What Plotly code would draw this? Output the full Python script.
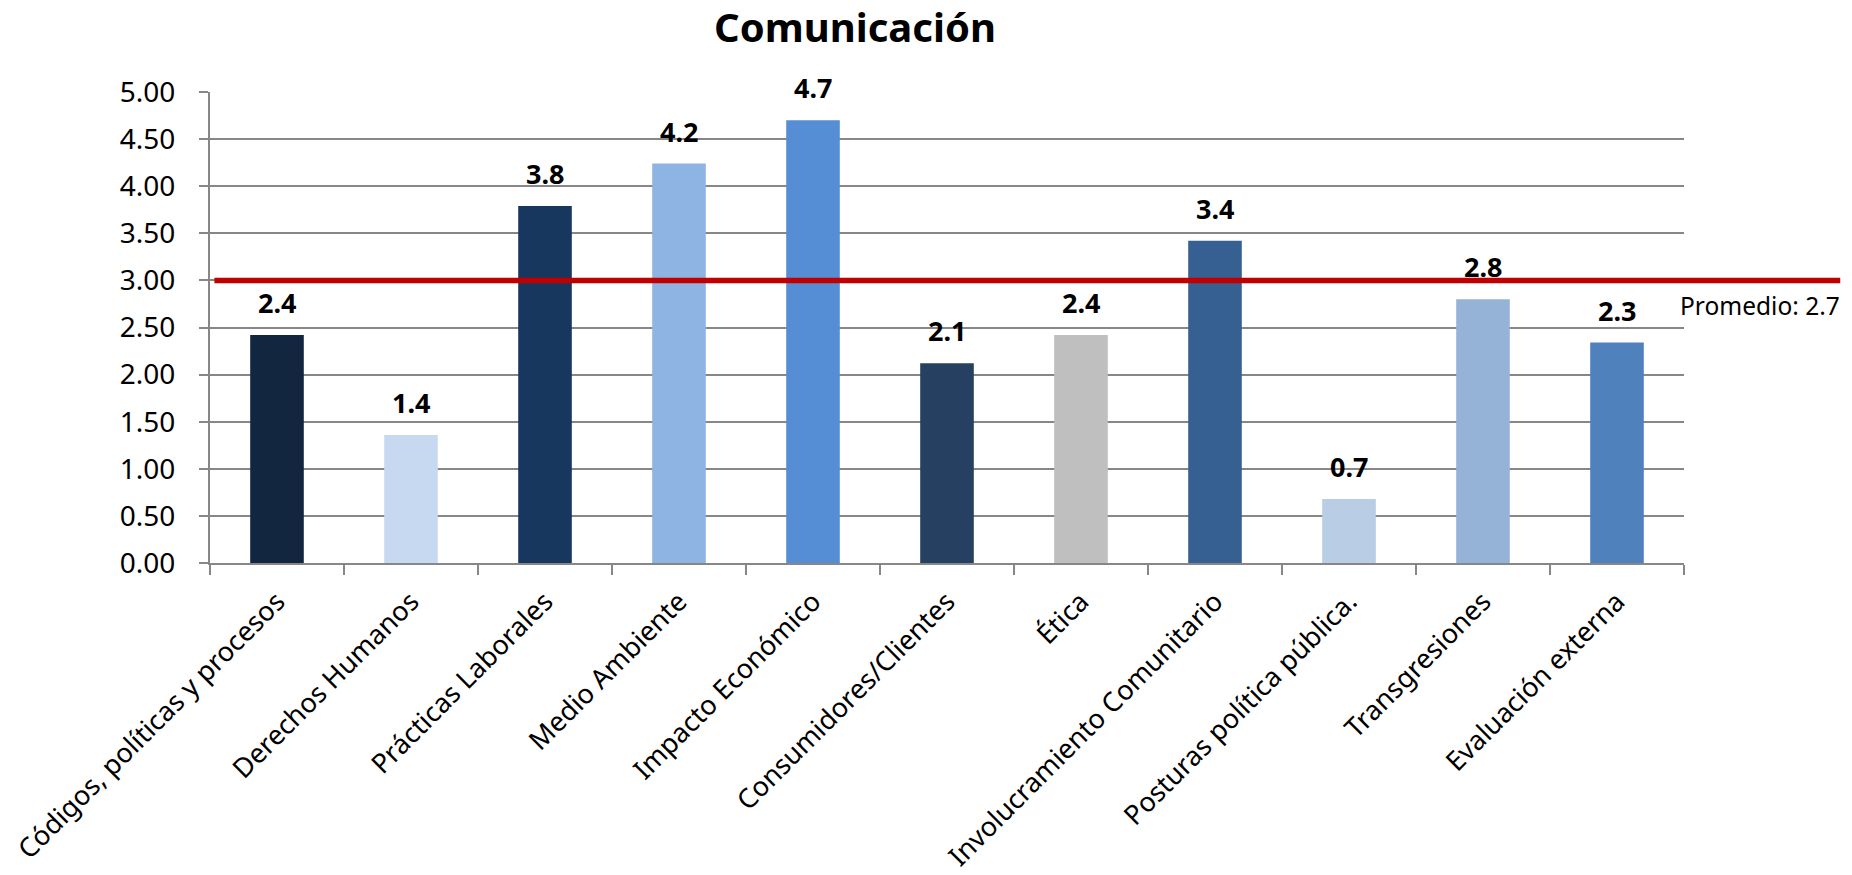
import plotly.graph_objects as go

categories = ["Códigos, políticas y procesos", "Derechos Humanos", "Prácticas Laborales",
              "Medio Ambiente", "Impacto Económico", "Consumidores/Clientes", "Ética",
              "Involucramiento Comunitario", "Posturas política pública.", "Transgresiones",
              "Evaluación externa"]
values = [2.42, 1.36, 3.79, 4.24, 4.70, 2.12, 2.42, 3.42, 0.68, 2.80, 2.34]
bar_colors = ["#132640", "#C6D9F1", "#17375E", "#8EB4E3", "#558ED5", "#254061",
              "#BFBFBF", "#376092", "#B9CDE5", "#95B3D7", "#4F81BD"]
y_ticks = [0, 0.5, 1.0, 1.5, 2.0, 2.5, 3.0, 3.5, 4.0, 4.5, 5.0]
y_max = 5.0
avg_line_value = 3.0
avg_label = "Promedio: 2.7"
avg_label_y = 2.73
title_text = "Comunicación"

FONT = "Noto Sans"
GRID = "#878787"

# page body has an 8px margin; figure sized to fit the window exactly
W, H = 1836, 859

fig = go.Figure()
fig.add_trace(go.Bar(x=categories, y=values, marker=dict(color=bar_colors, line=dict(width=0)),
                     showlegend=False, hoverinfo="skip"))

annotations = []
for c, v in zip(categories, values):
    annotations.append(dict(x=c, y=v, xref="x", yref="y", text=f"<b>{v:.1f}</b>",
                            showarrow=False, yanchor="bottom", yshift=12,
                            font=dict(family=FONT, size=27, color="black")))
annotations.append(dict(x=1.0, y=avg_label_y, xref="paper", yref="y", text=avg_label,
                        showarrow=False, xanchor="left", yanchor="middle", xshift=-6,
                        font=dict(family=FONT, size=24.5, color="black")))

fig.update_layout(
    width=W, height=H,
    margin=dict(l=202, r=160, t=84, b=304, autoexpand=False),
    paper_bgcolor="white", plot_bgcolor="white",
    bargap=0.6,
    title=dict(text=f"<b>{title_text}</b>", x=847 / W, xanchor="center", xref="container",
               y=1 - 20 / H, yanchor="middle", yref="container",
               font=dict(family=FONT, size=40, color="black")),
    font=dict(family=FONT, color="black"),
    annotations=annotations,
    shapes=[dict(type="line", xref="paper", yref="paper", x0=0.003, x1=1.106,
                 y0=avg_line_value / y_max, y1=avg_line_value / y_max,
                 line=dict(color="#C00000", width=5.5), layer="above")],
    xaxis=dict(type="category", tickangle=-45, tickson="boundaries", ticks="outside",
               ticklen=10, tickcolor=GRID, tickwidth=1.5, showline=True, linecolor=GRID,
               linewidth=2, showgrid=False, tickfont=dict(family=FONT, size=27, color="black"),
               ticklabelstandoff=10, automargin=False),
    yaxis=dict(range=[0, y_max], tickvals=y_ticks, tickformat=".2f", ticks="outside",
               ticklen=9, tickcolor=GRID, tickwidth=2, showline=True, linecolor=GRID,
               linewidth=2, showgrid=True, gridcolor=GRID, gridwidth=2, zeroline=False,
               tickfont=dict(family=FONT, size=28, color="black"), ticklabelstandoff=18,
               automargin=False),
)

fig.write_html("out.html")
